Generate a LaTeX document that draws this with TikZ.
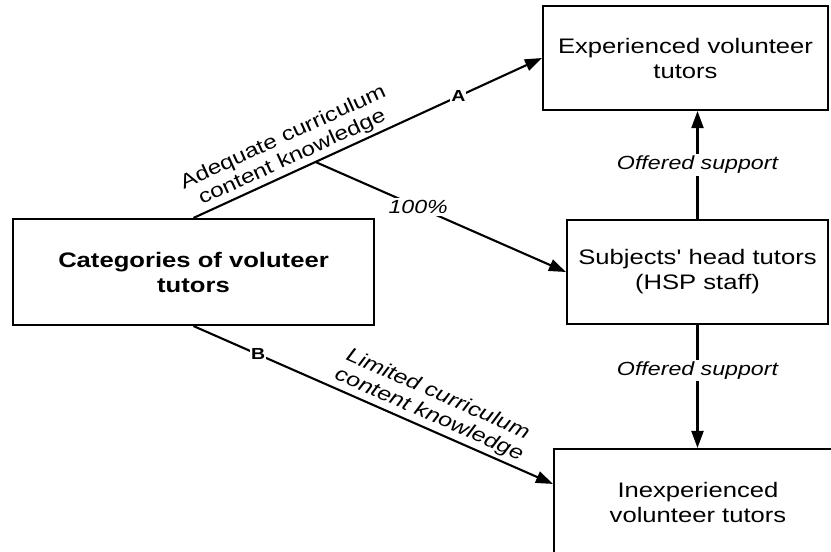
\documentclass[tikz,border=0pt]{standalone}
\usepackage{fontspec}
\setmainfont{Liberation Sans}[FakeStretch=1.22, Ligatures=TeXOff]
\usetikzlibrary{arrows.meta}
\begin{document}
\begin{tikzpicture}[x=1pt,y=-1pt,
  box/.style={draw, line width=2.1pt, align=center, inner sep=0pt, font=\fontsize{21}{25}\selectfont},
  conn/.style={line width=2.1pt, -{Triangle[length=17pt,width=12pt]}},
  lbl/.style={font=\itshape\fontsize{19}{23}\selectfont, fill=white, inner sep=2pt},
  tag/.style={font=\bfseries\fontsize{16}{19}\selectfont, fill=white, inner sep=1pt},
  slab/.style={sloped, above, align=center, inner sep=3pt, font=\fontsize{20}{22}\selectfont}]
\useasboundingbox (0,0) rectangle (831,552);
\node[box, minimum width=285pt, minimum height=104pt] (exp) at (685.5,58) {Experienced volunteer\\tutors};
\node[box, minimum width=261pt, minimum height=104pt] (subj) at (697.5,272) {Subjects' head tutors\\(HSP staff)};
\node[box, minimum width=288pt, minimum height=106pt] (inexp) at (698,502) {Inexperienced\\volunteer tutors};
\node[box, minimum width=361pt, minimum height=106pt, font=\bfseries\fontsize{21}{25}\selectfont] (cat) at (193.5,272) {Categories of voluteer\\tutors};
% A branch
\draw[conn] (cat.north) -- coordinate[pos=0.35] (br)
  node[slab, pos=0.3] {Adequate curriculum\\content knowledge}
  node[tag, pos=0.76] {A} (exp.west);
\draw[conn] (br) -- node[lbl, pos=0.41] {100\%} (subj.west);
% B branch
\draw[conn] (cat.south) -- node[tag, pos=0.18] {B}
  node[slab, pos=0.64, font=\itshape\fontsize{20}{22}\selectfont] {Limited curriculum\\content knowledge}
  ([yshift=-36pt]inexp.north west);
% support arrows
\draw[conn] (subj.north) -- node[lbl, pos=0.5] {Offered support} (subj.north |- exp.south);
\draw[conn] (subj.south) -- node[lbl, pos=0.37] {Offered support} (subj.south |- inexp.north);
\end{tikzpicture}
\end{document}
